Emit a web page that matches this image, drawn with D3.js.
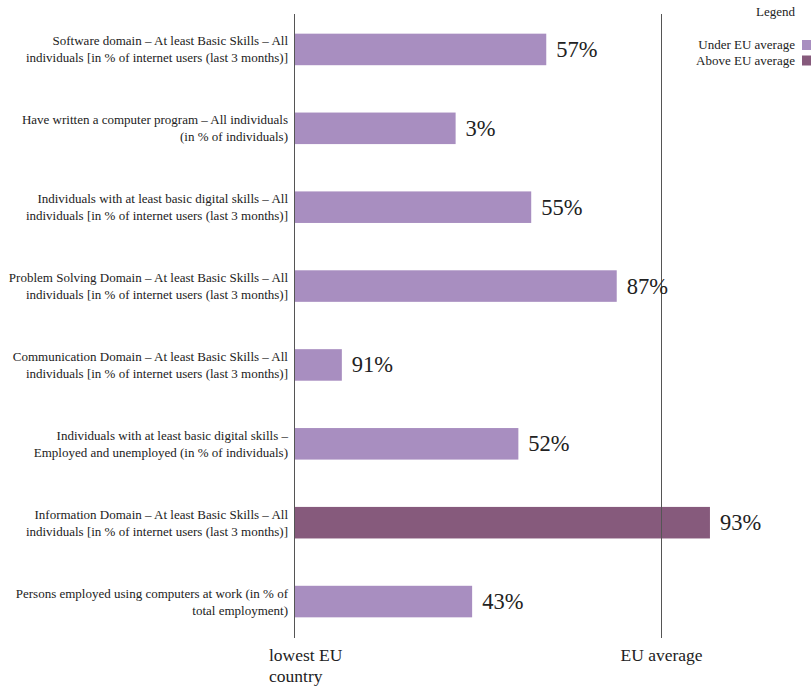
<!DOCTYPE html>
<html>
<head>
<meta charset="utf-8">
<script src="https://cdn.jsdelivr.net/npm/d3@7"></script>
<style>
  body { margin: 0; background: #fff; }
  text { font-family: "Liberation Serif", "DejaVu Serif", serif; fill: #222; }
</style>
</head>
<body>
<div id="chart"></div>
<script>
// Indicator names (two lines each)
const indicators = [
  ["Software domain \u2013 At least Basic Skills \u2013 All", "individuals [in % of internet users (last 3 months)]"],
  ["Have written a computer program \u2013 All individuals", "(in % of individuals)"],
  ["Individuals with at least basic digital skills \u2013 All", "individuals [in % of internet users (last 3 months)]"],
  ["Problem Solving Domain \u2013 At least Basic Skills \u2013 All", "individuals [in % of internet users (last 3 months)]"],
  ["Communication Domain \u2013 At least Basic Skills \u2013 All", "individuals [in % of internet users (last 3 months)]"],
  ["Individuals with at least basic digital skills \u2013", "Employed and unemployed (in % of individuals)"],
  ["Information Domain \u2013 At least Basic Skills \u2013 All", "individuals [in % of internet users (last 3 months)]"],
  ["Persons employed using computers at work (in % of", "total employment)"]
];

// Position between lowest EU country (0) and EU average (100)
const relative = [68.6, 43.9, 64.5, 87.8, 12.9, 61.0, 113.2, 48.4];

// Printed value labels
const valueLabels = ["57%", "3%", "55%", "87%", "91%", "52%", "93%", "43%"];

const legendItems = ["Under EU average", "Above EU average"];
const colors = { under: "#a88ec0", above: "#865a7c" };

const width = 811, height = 686;
const svg = d3.select("#chart").append("svg")
  .attr("width", width)
  .attr("height", height);

const x = d3.scaleLinear()
  .domain([0, 100])
  .range([294.5, 661.5]);

const y = d3.scaleBand()
  .domain(d3.range(indicators.length))
  .range([10, 641])
  .paddingInner(0.6)
  .paddingOuter(0.3);

// Bars
svg.selectAll(".bar")
  .data(relative)
  .enter()
  .append("rect")
  .attr("class", "bar")
  .attr("x", x(0))
  .attr("y", (d, i) => y(i))
  .attr("width", d => x(d) - x(0))
  .attr("height", y.bandwidth())
  .attr("fill", d => d > 100 ? colors.above : colors.under);

// Reference lines: lowest EU country and EU average
[0, 100].forEach(v => {
  svg.append("line")
    .attr("x1", x(v)).attr("x2", x(v))
    .attr("y1", 14).attr("y2", 638)
    .attr("stroke", "#555")
    .attr("stroke-width", 1);
});

// Value labels
svg.selectAll(".value")
  .data(relative)
  .enter()
  .append("text")
  .attr("class", "value")
  .attr("x", d => x(d) + 10)
  .attr("y", (d, i) => y(i) + y.bandwidth() / 2 + 7.5)
  .attr("font-size", 22.5)
  .text((d, i) => valueLabels[i]);

// Category labels
const cat = svg.selectAll(".cat")
  .data(indicators)
  .enter()
  .append("text")
  .attr("class", "cat")
  .attr("text-anchor", "end")
  .attr("font-size", 13);

cat.append("tspan")
  .attr("x", 288)
  .attr("y", (d, i) => y(i) + y.bandwidth() / 2 - 4)
  .text(d => d[0]);
cat.append("tspan")
  .attr("x", 288)
  .attr("y", (d, i) => y(i) + y.bandwidth() / 2 + 13)
  .text(d => d[1]);

// Axis end labels
const low = svg.append("text")
  .attr("font-size", 17.5);
low.append("tspan").attr("x", 269).attr("y", 661).text("lowest EU");
low.append("tspan").attr("x", 269).attr("y", 682).text("country");

svg.append("text")
  .attr("x", x(100))
  .attr("y", 661)
  .attr("text-anchor", "middle")
  .attr("font-size", 17.5)
  .text("EU average");

// Legend
svg.append("text")
  .attr("x", 795)
  .attr("y", 16)
  .attr("text-anchor", "end")
  .attr("font-size", 13)
  .text("Legend");

const lg = svg.selectAll(".legend")
  .data(legendItems)
  .enter()
  .append("g")
  .attr("class", "legend")
  .attr("transform", (d, i) => `translate(0,${40 + i * 15.5})`);

lg.append("rect")
  .attr("x", 802)
  .attr("y", 0)
  .attr("width", 10)
  .attr("height", 10)
  .attr("fill", (d, i) => i === 0 ? colors.under : colors.above);

lg.append("text")
  .attr("x", 795)
  .attr("y", 9)
  .attr("text-anchor", "end")
  .attr("font-size", 13)
  .text(d => d);
</script>
</body>
</html>
